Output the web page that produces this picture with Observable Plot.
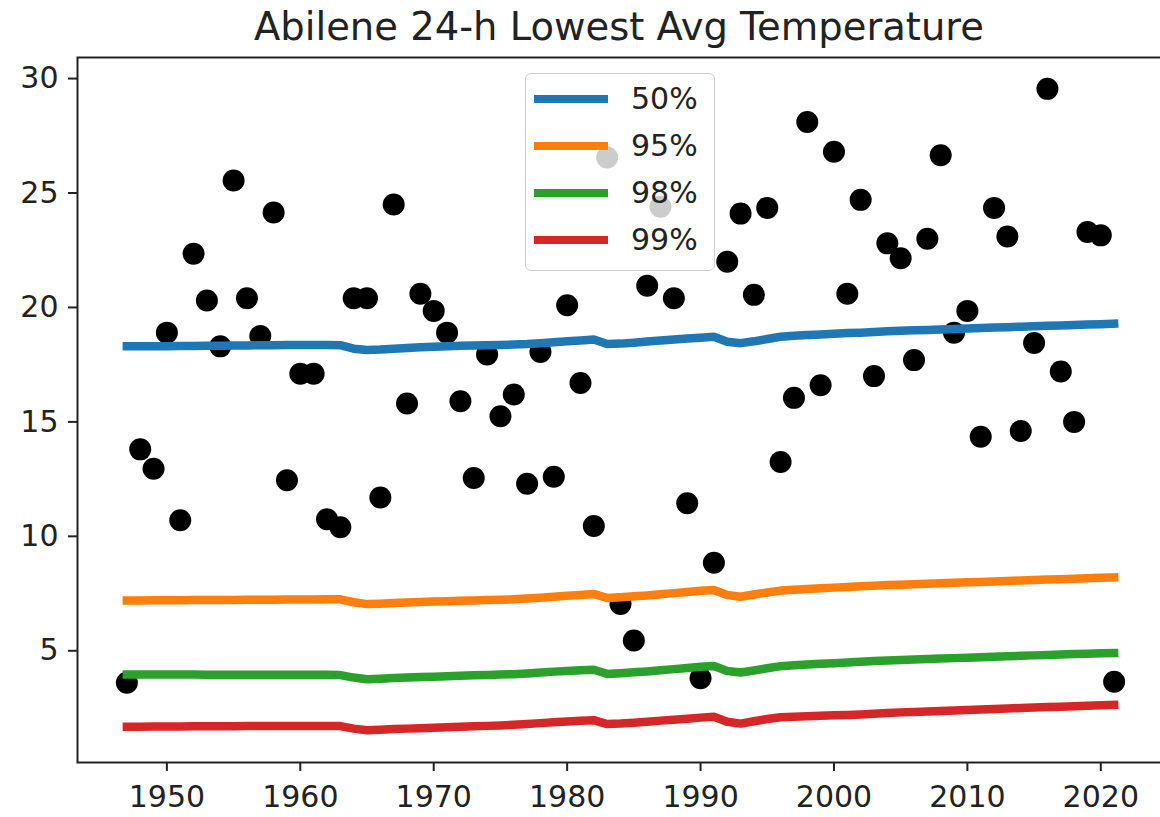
<!DOCTYPE html>
<html>
<head>
<meta charset="utf-8">
<script src="https://cdn.jsdelivr.net/npm/d3@7"></script>
<script src="https://cdn.jsdelivr.net/npm/@observablehq/plot@0.6"></script>
<style>
  html, body { margin: 0; padding: 0; background: #fff; }
  #wrap { position: relative; width: 1160px; height: 817px; overflow: hidden; font-family: "DejaVu Sans", sans-serif; color: #222; }
  #title { position: absolute; left: 119px; width: 1000px; top: 8px; text-align: center; font-size: 38.5px; line-height: 38px; white-space: nowrap; }
  #legend { position: absolute; left: 525px; top: 73px; width: 190px; height: 198px; box-sizing: border-box;
            background: rgba(255,255,255,0.8); border: 1.5px solid #cfcfcf; border-radius: 6px; }
  .lrow { position: absolute; left: 0; height: 30px; width: 100%; }
  .lsw { position: absolute; left: 8px; top: 10.75px; width: 74px; height: 8.5px; }
  .ltx { position: absolute; left: 105px; top: 0; font-size: 30px; line-height: 30px; }
  svg { display: block; }
</style>
</head>
<body>
<div id="wrap">
  <div id="title">Abilene 24-h Lowest Avg Temperature</div>
  <div id="chart"></div>
  <div id="legend"></div>
</div>
<script>
const titleText = "Abilene 24-h Lowest Avg Temperature";

const years = [1947,1948,1949,
  1950,1951,1952,1953,1954,1955,1956,1957,1958,1959,
  1960,1961,1962,1963,1964,1965,1966,1967,1968,1969,
  1970,1971,1972,1973,1974,1975,1976,1977,1978,1979,
  1980,1981,1982,1983,1984,1985,1986,1987,1988,1989,
  1990,1991,1992,1993,1994,1995,1996,1997,1998,1999,
  2000,2001,2002,2003,2004,2005,2006,2007,2008,2009,
  2010,2011,2012,2013,2014,2015,2016,2017,2018,2019,
  2020,2021];

// annual 24-h lowest average temperature (dots)
const lowestAvg = [3.6,13.8,12.95,
  18.9,10.7,22.35,20.3,18.3,25.55,20.4,18.75,24.15,12.45,
  17.1,17.1,10.75,10.4,20.4,20.4,11.7,24.5,15.8,20.6,
  19.85,18.9,15.9,12.55,17.95,15.25,16.2,12.3,18.05,12.6,
  20.1,16.7,10.45,26.55,7.05,5.45,20.95,24.4,20.4,11.45,
  3.8,8.85,22.0,24.1,20.55,24.35,13.25,16.05,28.1,16.6,
  26.8,20.6,24.7,17.0,22.8,22.15,17.7,23.0,26.65,18.9,
  19.85,14.35,24.35,23.1,14.6,18.45,29.55,17.2,15.0,23.3,
  23.15,3.65];

const p50 = [18.30,18.30,18.31,
  18.31,18.32,18.32,18.33,18.33,18.34,18.34,18.35,18.35,18.36,
  18.36,18.36,18.36,18.35,18.20,18.14,18.16,18.20,18.23,18.26,
  18.28,18.31,18.33,18.34,18.35,18.36,18.38,18.40,18.44,18.48,
  18.52,18.56,18.60,18.40,18.42,18.46,18.51,18.56,18.60,18.64,
  18.68,18.72,18.50,18.44,18.52,18.62,18.72,18.76,18.80,18.82,
  18.85,18.88,18.90,18.93,18.96,18.98,19.00,19.02,19.04,19.06,
  19.08,19.10,19.12,19.14,19.16,19.18,19.20,19.21,19.23,19.25,
  19.27,19.29];

const p95 = [7.20,7.20,7.21,
  7.21,7.21,7.22,7.22,7.22,7.22,7.23,7.23,7.23,7.24,
  7.24,7.24,7.25,7.25,7.12,7.04,7.06,7.09,7.11,7.13,
  7.15,7.17,7.19,7.20,7.22,7.23,7.25,7.28,7.32,7.36,
  7.40,7.44,7.48,7.31,7.34,7.38,7.42,7.47,7.52,7.57,
  7.62,7.66,7.44,7.36,7.46,7.55,7.63,7.67,7.70,7.73,
  7.76,7.79,7.82,7.84,7.87,7.89,7.91,7.93,7.95,7.97,
  7.99,8.01,8.03,8.05,8.07,8.09,8.11,8.13,8.15,8.17,
  8.19,8.21];

const p98 = [3.96,3.96,3.96,
  3.96,3.96,3.96,3.95,3.95,3.95,3.95,3.95,3.95,3.95,
  3.95,3.95,3.95,3.94,3.83,3.76,3.78,3.81,3.83,3.85,
  3.87,3.89,3.91,3.93,3.94,3.96,3.98,4.01,4.05,4.09,
  4.12,4.15,4.17,3.99,4.02,4.06,4.10,4.15,4.20,4.25,
  4.30,4.34,4.12,4.05,4.14,4.24,4.33,4.37,4.40,4.43,
  4.46,4.49,4.52,4.55,4.58,4.60,4.62,4.64,4.66,4.68,
  4.70,4.72,4.74,4.76,4.78,4.80,4.82,4.84,4.86,4.87,
  4.89,4.90];

const p99 = [1.68,1.68,1.69,
  1.69,1.69,1.70,1.70,1.70,1.70,1.71,1.71,1.71,1.72,
  1.72,1.72,1.72,1.71,1.60,1.53,1.55,1.58,1.60,1.62,
  1.64,1.66,1.68,1.70,1.72,1.74,1.77,1.80,1.84,1.88,
  1.91,1.94,1.97,1.80,1.82,1.86,1.90,1.95,1.99,2.03,
  2.08,2.12,1.90,1.82,1.92,2.02,2.10,2.12,2.14,2.16,
  2.18,2.20,2.22,2.25,2.28,2.31,2.33,2.35,2.37,2.39,
  2.41,2.44,2.46,2.48,2.50,2.52,2.54,2.56,2.58,2.60,
  2.62,2.64];

const seriesNames = ["50%", "95%", "98%", "99%"];
const seriesColors = ["#1f77b4", "#ff7f0e", "#2ca02c", "#d62728"];
const xTicks = [1950, 1960, 1970, 1980, 1990, 2000, 2010, 2020];
const yTicks = [5, 10, 15, 20, 25, 30];

const points = years.map((year, i) => ({year, value: lowestAvg[i]}));
const seriesValues = [p50, p95, p98, p99];
const lines = seriesNames.flatMap((s, k) => years.map((year, i) => ({year, value: seriesValues[k][i], series: s})));

document.getElementById("title").textContent = titleText;

const chart = Plot.plot({
  width: 1160,
  height: 817,
  marginTop: 57,
  marginBottom: 55,
  marginLeft: 77,
  marginRight: -3,
  style: {fontFamily: "DejaVu Sans", fontSize: "30px", color: "#222", background: "white", overflow: "hidden"},
  x: {domain: [1943.3, 2024.7]},
  y: {domain: [0.12, 30.92]},
  color: {domain: seriesNames, range: seriesColors},
  marks: [
    Plot.axisX({ticks: xTicks, tickFormat: d => String(d), tickSize: 9, tickPadding: 14, label: null, strokeWidth: 2, fontSize: 30}),
    Plot.axisY({ticks: yTicks, tickSize: 9, tickPadding: 10, label: null, strokeWidth: 2, fontSize: 30}),
    Plot.dot(points, {x: "year", y: "value", r: 11, fill: "black"}),
    Plot.line(lines, {x: "year", y: "value", z: "series", stroke: "series", strokeWidth: 8.5, strokeLinecap: "square", strokeLinejoin: "round"}),
    Plot.frame({stroke: "#222", strokeWidth: 2})
  ]
});
document.getElementById("chart").appendChild(chart);

// legend (drawn over the plot, semi-transparent like matplotlib's)
const legend = document.getElementById("legend");
const rowCenters = [26.3, 73.4, 120.5, 167.6];
seriesNames.forEach((name, i) => {
  const row = document.createElement("div");
  row.className = "lrow";
  row.style.top = (rowCenters[i] - 1.5 - 15) + "px";
  const sw = document.createElement("div");
  sw.className = "lsw";
  sw.style.background = seriesColors[i];
  const tx = document.createElement("div");
  tx.className = "ltx";
  tx.textContent = name;
  row.appendChild(sw);
  row.appendChild(tx);
  legend.appendChild(row);
});
</script>
</body>
</html>
